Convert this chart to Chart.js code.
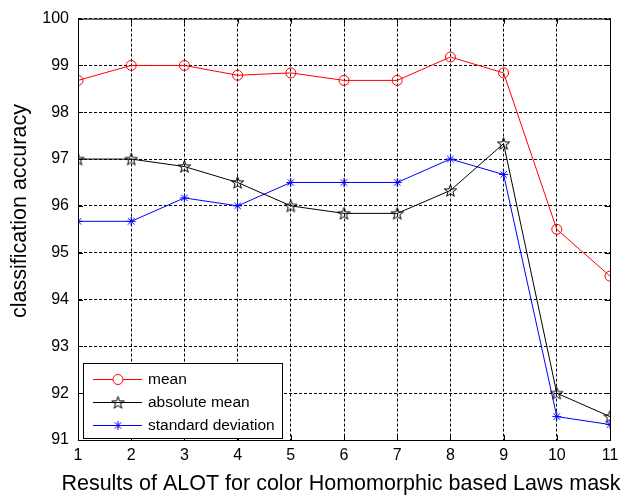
<!DOCTYPE html>
<html>
<head>
<meta charset="utf-8">
<script src="https://cdn.jsdelivr.net/npm/chart.js@4/dist/chart.umd.min.js"></script>
<style>
  html, body { margin: 0; padding: 0; background: #fff; }
  #wrap { width: 626px; height: 496px; }
</style>
</head>
<body>
<div id="wrap"><canvas id="accChart" width="626" height="496"></canvas></div>
<script>
// values
const masks = [1, 2, 3, 4, 5, 6, 7, 8, 9, 10, 11];
const meanAcc = [98.68, 99.0, 99.0, 98.79, 98.84, 98.68, 98.68, 99.18, 98.84, 95.5, 94.5];
const absMeanAcc = [97.0, 97.0, 96.84, 96.5, 96.0, 95.84, 95.84, 96.33, 97.33, 92.0, 91.5];
const stdAcc = [95.67, 95.67, 96.17, 96.0, 96.5, 96.5, 96.5, 97.0, 96.67, 91.5, 91.33];
const seriesNames = ['mean', 'absolute mean', 'standard deviation'];
const yTitle = 'classification accuracy';
const xTitle = 'Results of ALOT for color Homomorphic based Laws mask';

const FONT = 'Liberation Sans, Arial, Helvetica, sans-serif';

// pentagram marker like matlab 'p'
function makePentagram(color) {
    const c = document.createElement('canvas');
    c.width = 15;
    c.height = 15;
    const g = c.getContext('2d');
    g.strokeStyle = color;
    g.lineWidth = 1;
    g.beginPath();
    for (let i = 0; i < 10; i++) {
        const r = i % 2 === 0 ? 6.5 : 2.6;
        const a = -Math.PI / 2 + i * Math.PI / 5;
        const px = 7.5 + r * Math.cos(a);
        const py = 8 + r * Math.sin(a);
        if (i === 0) g.moveTo(px, py); else g.lineTo(px, py);
    }
    g.closePath();
    g.stroke();
    return c;
}
const starMark = makePentagram('#000');

function toPoints(arr) {
    return arr.map((v, i) => ({ x: masks[i], y: v }));
}

// box round the plot with inward ticks, like matlab "box on"
// axis titles drawn here too (chart.js squeezes the long x title to the plot width)
const boxPlugin = {
    id: 'boxPlugin',
    afterDraw(chart) {
        const a = chart.chartArea;
        const ctx = chart.ctx;
        const xs = chart.scales.x, ys = chart.scales.y;
        ctx.save();
        ctx.strokeStyle = '#000';
        ctx.lineWidth = 1;
        ctx.strokeRect(a.left + 0.5, a.top + 0.5, a.right - a.left, a.bottom - a.top);
        ctx.beginPath();
        xs.ticks.forEach(t => {
            const px = Math.round(xs.getPixelForValue(t.value)) + 0.5;
            ctx.moveTo(px, a.bottom); ctx.lineTo(px, a.bottom - 5);
            ctx.moveTo(px, a.top); ctx.lineTo(px, a.top + 5);
        });
        ys.ticks.forEach(t => {
            const py = Math.round(ys.getPixelForValue(t.value)) + 0.5;
            ctx.moveTo(a.left, py); ctx.lineTo(a.left + 5, py);
            ctx.moveTo(a.right, py); ctx.lineTo(a.right - 5, py);
        });
        ctx.stroke();

        ctx.fillStyle = '#000';
        ctx.font = '21.5px ' + FONT;
        ctx.textAlign = 'center';
        ctx.textBaseline = 'alphabetic';
        ctx.fillText(xTitle, 341, 490);

        ctx.translate(26, 211);
        ctx.rotate(-Math.PI / 2);
        ctx.fillText(yTitle, 0, 0);
        ctx.restore();
    }
};

// legend inside the axes, lower left
const insideLegend = {
    id: 'insideLegend',
    afterDraw(chart) {
        const ctx = chart.ctx;
        const x0 = 83, y0 = 363, w = 199, h = 75;
        ctx.save();
        ctx.fillStyle = '#fff';
        ctx.fillRect(x0, y0, w, h);
        ctx.strokeStyle = '#000';
        ctx.lineWidth = 1;
        ctx.strokeRect(x0 + 0.5, y0 + 0.5, w, h);
        const rows = [379, 402, 425];
        chart.data.datasets.forEach((ds, i) => {
            const y = rows[i] + 0.5;
            ctx.strokeStyle = ds.borderColor;
            ctx.beginPath();
            ctx.moveTo(93, y);
            ctx.lineTo(142, y);
            ctx.stroke();
            Chart.helpers.drawPoint(ctx, {
                pointStyle: ds.pointStyle,
                radius: ds.pointRadius,
                borderWidth: 1
            }, 118, y);
            ctx.fillStyle = '#000';
            ctx.font = '15.5px ' + FONT;
            ctx.textBaseline = 'middle';
            ctx.fillText(ds.label, 148, rows[i] + 1);
        });
        ctx.restore();
    }
};

const ctx = document.getElementById('accChart').getContext('2d');

const accChart = new Chart(ctx, {
    type: 'line',
    data: {
        datasets: [
            {
                label: seriesNames[0],
                data: toPoints(meanAcc),
                borderColor: '#ff0000',
                backgroundColor: 'rgba(0,0,0,0)',
                borderWidth: 1,
                pointStyle: 'circle',
                pointRadius: 5,
                pointBorderWidth: 1
            },
            {
                label: seriesNames[1],
                data: toPoints(absMeanAcc),
                borderColor: '#000000',
                backgroundColor: 'rgba(0,0,0,0)',
                borderWidth: 1,
                pointStyle: starMark,
                pointRadius: 6,
                pointBorderWidth: 1
            },
            {
                label: seriesNames[2],
                data: toPoints(stdAcc),
                borderColor: '#0000ff',
                backgroundColor: 'rgba(0,0,0,0)',
                borderWidth: 1,
                pointStyle: 'star',
                pointRadius: 4.5,
                pointBorderWidth: 1
            }
        ]
    },
    options: {
        responsive: false,
        animation: false,
        layout: { padding: { top: 18, right: 16, left: 0, bottom: 0 } },
        plugins: {
            legend: { display: false },
            tooltip: { enabled: false }
        },
        scales: {
            x: {
                type: 'linear',
                min: 1,
                max: 11,
                ticks: {
                    stepSize: 1,
                    color: '#000',
                    font: { family: FONT, size: 16 },
                    padding: 6
                },
                grid: {
                    color: '#000',
                    lineWidth: 1,
                    tickLength: 0
                },
                border: { color: '#000', dash: [3, 2] },
                afterFit(scale) { scale.height = 56; }
            },
            y: {
                min: 91,
                max: 100,
                ticks: {
                    stepSize: 1,
                    color: '#000',
                    font: { family: FONT, size: 16 },
                    padding: 9
                },
                grid: {
                    color: '#000',
                    lineWidth: 1,
                    tickLength: 0
                },
                border: { color: '#000', dash: [3, 2] },
                afterFit(scale) { scale.width = 78; }
            }
        }
    },
    plugins: [boxPlugin, insideLegend]
});
</script>
</body>
</html>
